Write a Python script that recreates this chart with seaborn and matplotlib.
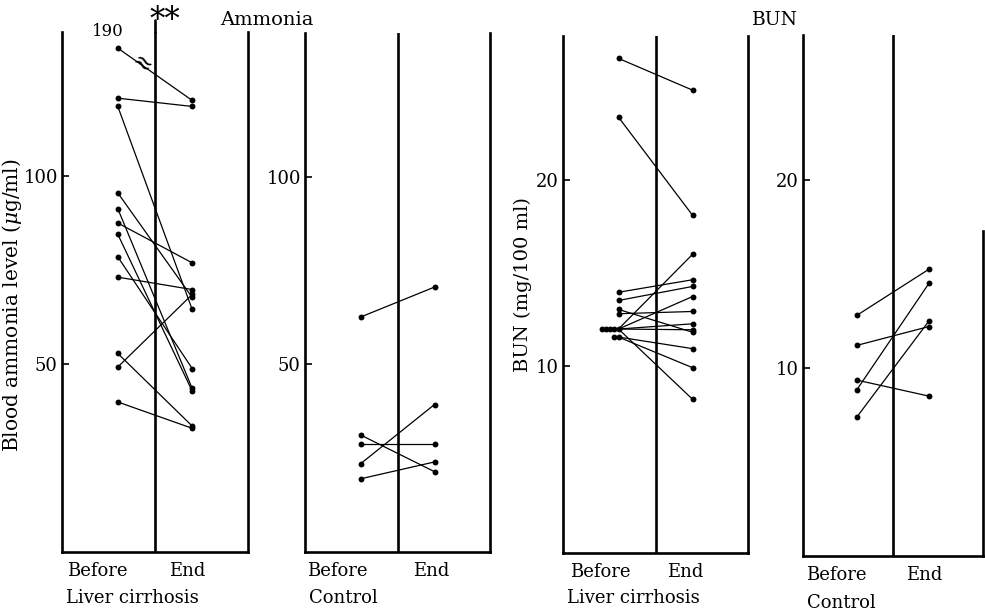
import numpy as np
import pandas as pd
import matplotlib
matplotlib.use("Agg")
import matplotlib.pyplot as plt
import seaborn as sns

# ---------------- data ----------------
amm_lc_before = [190, 120.7, 118.5, 95.5, 91.3, 87.5, 84.5, 78.5, 73.1, 52.8, 49.2, 39.9]
amm_lc_end = [120.1, 118.5, 64.5, 67.7, 43.5, 76.9, 42.8, 48.8, 69.8, 33.5, 68.5, 32.9]

amm_c_before = [62.6, 31.2, 28.9, 23.5, 19.5]
amm_c_end = [70.6, 21.4, 28.9, 39.3, 24.0]

bun_lc_before = [26.5, 23.35, 13.97, 13.53, 13.05, 12.82, 12.0, 12.0, 12.0, 12.0, 12.0, 11.57, 11.57]
bun_lc_end = [24.8, 18.1, 14.64, 14.28, 11.83, 12.94, 16.0, 13.74, 12.28, 11.96, 8.24, 10.95, 9.93]

bun_c_before = [12.8, 11.2, 9.35, 8.85, 7.4]
bun_c_end = [15.25, 12.2, 8.5, 14.5, 12.5]

time_labels = ["Before", "End"]
amm_ticks = [50, 100]
bun_ticks = [10, 20]
group_names = ["Liver cirrhosis", "Control", "Liver cirrhosis", "Control"]

# ---------------- style ----------------
sns.set_theme(style="white")
plt.rcParams["font.family"] = ["DejaVu Serif"]
plt.rcParams["mathtext.fontset"] = "dejavuserif"

fig = plt.figure(figsize=(9.85, 6.13), dpi=100)
W, H = 985, 613


def make_axes(l, r, t, b):
    return fig.add_axes([l / W, 1 - b / H, (r - l) / W, (b - t) / H])


def panel(ax, before, end, ylim, yticks, group, cap=None, xb=0.6, xe=1.4,
          xlab=(0.38, 1.35), group_y=-0.088):
    shown = [min(v, cap) if cap is not None else v for v in before]
    rows = []
    for i, (b, e) in enumerate(zip(shown, end)):
        rows.append(dict(subject=i, x=xb, value=b))
        rows.append(dict(subject=i, x=xe, value=e))
    df = pd.DataFrame(rows)
    sns.lineplot(data=df, x="x", y="value", units="subject", estimator=None,
                 color="black", lw=0.9, ax=ax, legend=False, sort=False)
    # dots; repeated 'before' values are set side by side to the left
    seen = {}
    bx = []
    for v in shown:
        k = seen.get(v, 0)
        seen[v] = k + 1
        bx.append(xb - 0.045 * k)
    pts = pd.DataFrame({"x": bx + [xe] * len(end), "value": shown + list(end)})
    sns.scatterplot(data=pts, x="x", y="value", color="black", s=18,
                    linewidth=0, ax=ax, zorder=3, legend=False)

    ax.set_xlim(0, 2)
    ax.set_ylim(*ylim)
    ax.set_yticks(yticks)
    ax.set_yticklabels([str(t) for t in yticks])
    ax.set_xticks(list(xlab))
    ax.set_xticklabels(time_labels)
    ax.set_xlabel("")
    ax.set_ylabel("")
    ax.tick_params(axis="y", direction="in", length=5, width=1.2,
                   labelsize=13, pad=3, left=True, colors="black")
    ax.tick_params(axis="x", length=0, labelsize=13, pad=7, colors="black")
    ax.spines["top"].set_visible(False)
    for s in ("left", "right", "bottom"):
        ax.spines[s].set_linewidth(1.9)
        ax.spines[s].set_color("black")
    ax.axvline(1, color="black", lw=1.9, zorder=1)
    ax.set_facecolor("white")
    ax.text(0.02, group_y, group, transform=ax.transAxes, ha="left",
            va="center", fontsize=13, color="black")


ax1 = make_axes(62, 248, 32, 552)
ax2 = make_axes(305, 490, 33, 552)
ax3 = make_axes(563, 748, 36, 553)
ax4 = make_axes(803, 983, 35, 556)

CAP = 134
panel(ax1, amm_lc_before, amm_lc_end, (0, 138.3), amm_ticks, group_names[0], cap=CAP)
panel(ax2, amm_c_before, amm_c_end, (0, 138.3), amm_ticks, group_names[1], xlab=(0.35, 1.36))
panel(ax3, bun_lc_before, bun_lc_end, (0, 27.7), bun_ticks, group_names[2], xlab=(0.40, 1.32))
panel(ax4, bun_c_before, bun_c_end, (0, 27.7), bun_ticks, group_names[3], xlab=(0.37, 1.35),
      group_y=-0.09)
ax4.spines["right"].set_bounds(0, 17.3)
# the centre line of the first panel reaches a little above its frame
ax1.plot([1, 1], [138.3, 141.5], color="black", lw=1.9, clip_on=False)

# broken-value annotation for the 190 point
ax1.text(0.49, 138.3, "190", ha="center", va="center", fontsize=12,
         color="black", clip_on=False)
ax1.text(0.86, CAP + (amm_lc_end[0] - CAP) * (0.86 - 0.6) / 0.8, "≈",
         ha="center", va="center", fontsize=17, rotation=-35, color="black")

ax1.set_ylabel("Blood ammonia level ($\\mu$g/ml)", fontsize=14.5, color="black")
ax1.yaxis.set_label_coords(-0.205, 0.475)
ax3.set_ylabel("BUN (mg/100 ml)", fontsize=14, color="black")
ax3.yaxis.set_label_coords(-0.17, 0.52)

fig.text(165 / W, 1 - 20 / H, "**", ha="center", va="center", fontsize=22, color="black")
fig.text(220 / W, 1 - 20 / H, "Ammonia", ha="left", va="center", fontsize=14, color="black")
fig.text(752 / W, 1 - 20 / H, "BUN", ha="left", va="center", fontsize=13.5, color="black")

fig.savefig("out.png", dpi=100, facecolor="white")
